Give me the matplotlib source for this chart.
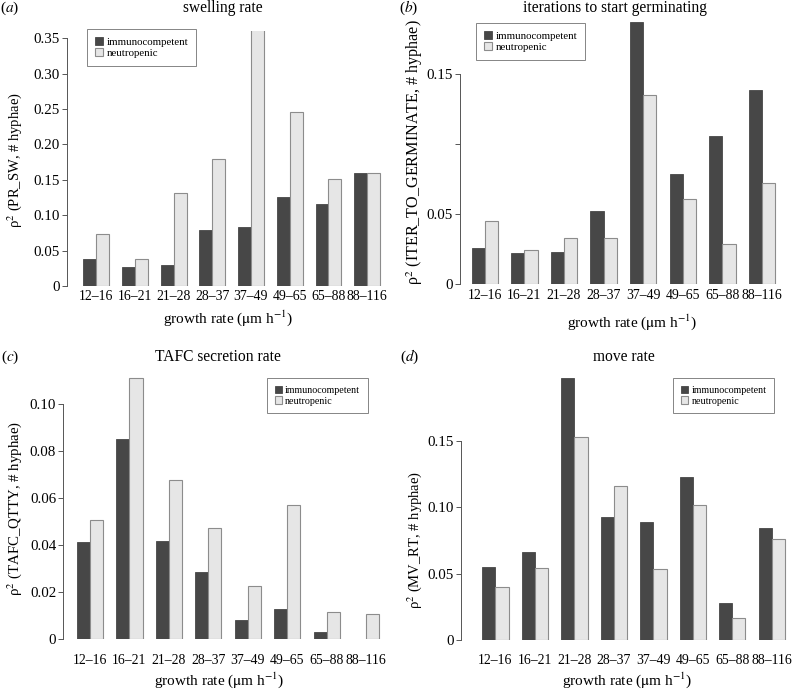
import matplotlib
matplotlib.use('Agg')
import matplotlib.pyplot as plt
import numpy as np

plt.rcParams['font.family'] = ['Liberation Serif', 'DejaVu Serif']
plt.rcParams['mathtext.fontset'] = 'stix'

groups = ['12–16', '16–21', '21–28', '28–37', '37–49', '49–65', '65–88', '88–116']
series_names = ['immunocompetent', 'neutropenic']

swell_immuno = [0.038, 0.027, 0.029, 0.079, 0.083, 0.126, 0.116, 0.159]
swell_neutro = [0.074, 0.038, 0.131, 0.179, 0.370, 0.246, 0.151, 0.160]
germ_immuno = [0.026, 0.022, 0.023, 0.052, 0.187, 0.079, 0.106, 0.139]
germ_neutro = [0.045, 0.0245, 0.033, 0.033, 0.135, 0.061, 0.029, 0.072]
tafc_immuno = [0.0415, 0.085, 0.0416, 0.0288, 0.0081, 0.013, 0.0031, 0.0]
tafc_neutro = [0.0506, 0.111, 0.0677, 0.0472, 0.0227, 0.0571, 0.0115, 0.0106]
move_immuno = [0.0547, 0.0662, 0.197, 0.0926, 0.0888, 0.1229, 0.0276, 0.0845]
move_neutro = [0.0396, 0.0539, 0.1525, 0.1156, 0.0532, 0.1016, 0.0166, 0.0762]

titles = ['swelling rate', 'iterations to start germinating',
          'TAFC secretion rate', 'move rate']
ylabels = [r'ρ$^2$ (PR_SW, # hyphae)', r'ρ$^2$ (ITER_TO_GERMINATE, # hyphae)',
           r'ρ$^2$ (TAFC_QTTY, # hyphae)', r'ρ$^2$ (MV_RT, # hyphae)']
letters = ['a', 'b', 'c', 'd']
yticks = [[0, 0.05, 0.10, 0.15, 0.20, 0.25, 0.30, 0.35],
          [0, 0.05, 0.10, 0.15],
          [0, 0.02, 0.04, 0.06, 0.08, 0.10],
          [0, 0.05, 0.10, 0.15]]
yticklabels = [['0', '0.05', '0.10', '0.15', '0.20', '0.25', '0.30', '0.35'],
               ['0', '0.05', '', '0.15'],
               ['0', '0.02', '0.04', '0.06', '0.08', '0.10'],
               ['0', '0.05', '0.10', '0.15']]
data = [(swell_immuno, swell_neutro), (germ_immuno, germ_neutro),
        (tafc_immuno, tafc_neutro), (move_immuno, move_neutro)]

# layout in image pixels (792x690, y down)
W, H = 792, 690
layout = [
    dict(spine=67, first=83.3, unit=12.9, zero=286, scale=707.7, top=0.361, xoff=10,
         title=(223, 8), letter=(10, 8), xlab=(228, 318), ylab=(15, 160), ylfs=10.5,
         leg=(87, 29), legfs=7.8),
    dict(spine=460, first=471.7, unit=13.19, zero=284.3, scale=1400, top=0.19, xoff=10.7,
         title=(615, 8), letter=(409, 8), xlab=(632, 321.7), ylab=(415, 152), ylfs=11.6,
         leg=(476, 22.7), legfs=7.8),
    dict(spine=63.3, first=76.7, unit=13.16, zero=639.3, scale=2353, top=0.112, xoff=21.4,
         title=(218, 357), letter=(10, 357), xlab=(219, 680.5), ylab=(15, 508), ylfs=10.7,
         leg=(267, 378.3), legfs=7.2),
    dict(spine=461, first=482.3, unit=13.16, zero=640, scale=1329, top=0.2, xoff=20.7,
         title=(624, 357), letter=(410, 357), xlab=(627, 680.5), ylab=(415, 540), ylfs=10.5,
         leg=(673.3, 378.3), legfs=7.2),
]

dark = '#474747'
light = '#e6e6e6'
edge = '#8c8c8c'

fig = plt.figure(figsize=(W / 100, H / 100), dpi=100)

x = np.arange(len(groups)) * 3
for k in range(4):
    L = layout[k]
    immuno, neutro = data[k]
    xr = 24.6
    xl = 1 - (L['first'] - L['spine']) / L['unit']
    right_px = L['first'] + (xr - 1) * L['unit']
    top_px = L['zero'] - L['top'] * L['scale']
    ax = fig.add_axes([L['spine'] / W, 1 - L['zero'] / H,
                       (right_px - L['spine']) / W, (L['zero'] - top_px) / H])
    ax.bar(x + 1.5, immuno, width=1, color=dark, edgecolor=dark, linewidth=0.6,
           label=series_names[0])
    ax.bar(x + 2.5, neutro, width=1, color=light, edgecolor=edge, linewidth=0.8,
           label=series_names[1])
    ax.set_xlim(xl, xr)
    ax.set_ylim(0, L['top'])
    for s in ['top', 'right', 'bottom']:
        ax.spines[s].set_visible(False)
    ax.spines['left'].set_color('#555555')
    ax.spines['left'].set_linewidth(0.7)
    ax.spines['left'].set_bounds(0, yticks[k][-1])
    ax.set_yticks(yticks[k])
    ax.set_yticklabels(yticklabels[k], fontsize=10.8)
    ax.tick_params(axis='y', length=3.6, width=0.7, color='#555555', pad=1.5)
    ax.set_xticks(x + 2)
    ax.set_xticklabels(groups, fontsize=9.9)
    ax.tick_params(axis='x', length=0, pad=L['xoff'] * 0.72 - 4.6)

    fig.text(L['title'][0] / W, 1 - L['title'][1] / H, titles[k],
             ha='center', va='center', fontsize=11.2)
    fig.text(L['letter'][0] / W, 1 - L['letter'][1] / H, '($\\it{%s}$)' % letters[k],
             ha='center', va='center', fontsize=11)
    fig.text(L['xlab'][0] / W, 1 - L['xlab'][1] / H,
             r'growth rate ($\mathrm{\mu}$m h$^{-1}$)',
             ha='center', va='center', fontsize=11)
    fig.text(L['ylab'][0] / W, 1 - L['ylab'][1] / H, ylabels[k],
             ha='center', va='center', rotation=90, fontsize=L['ylfs'])

    leg = ax.legend(loc='upper left',
                    bbox_to_anchor=(L['leg'][0] / W, 1 - L['leg'][1] / H),
                    bbox_transform=fig.transFigure, fontsize=L['legfs'],
                    frameon=True, fancybox=False, handlelength=0.75, handleheight=0.75,
                    handletextpad=0.3, borderpad=0.75, labelspacing=0.15,
                    borderaxespad=0)
    leg.get_frame().set_edgecolor('#666666')
    leg.get_frame().set_linewidth(0.7)

fig.savefig('out.png', dpi=100)
